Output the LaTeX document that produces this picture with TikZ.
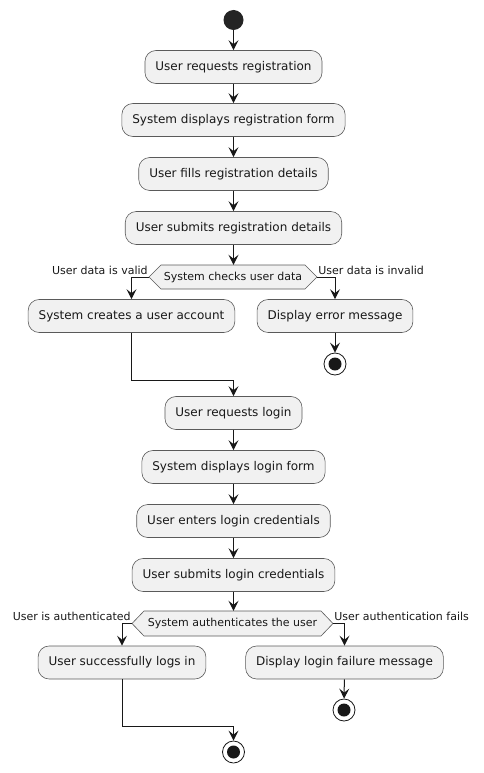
\documentclass[tikz,border=0pt]{standalone}
\usepackage{fontspec}
\setmainfont{DejaVu Sans}
\usetikzlibrary{arrows.meta}
\definecolor{boxfill}{HTML}{F1F1F1}
\definecolor{ink}{HTML}{181818}
\definecolor{edgegrey}{HTML}{5A5A5A}
\tikzset{
act/.style={draw=edgegrey,line width=0.6pt,fill=boxfill,rounded corners=11pt,minimum height=33pt,inner xsep=10.5pt,font=\fontsize{12}{14}\selectfont,text=ink},
cond/.style={draw=edgegrey,line width=0.6pt,fill=boxfill},
condtext/.style={inner sep=0pt,font=\fontsize{11}{13}\selectfont,text=ink},
lbl/.style={inner sep=1pt,font=\fontsize{11}{13}\selectfont,text=ink},
flow/.style={draw=ink,line width=1pt,-{Stealth[length=10pt,width=10pt,inset=4pt]}},
startdot/.style={circle,fill=ink!95!white,minimum size=20pt,inner sep=0pt},
stopdot/.style={circle,draw=ink,line width=0.8pt,fill=white,minimum size=22pt,inner sep=0pt,path picture={\fill[ink] (path picture bounding box.center) circle (6.5pt);}}
}
\begin{document}
\begin{tikzpicture}[x=1pt,y=-1pt]
\useasboundingbox (0,0) rectangle (483,773);
\node[startdot] (start) at (233.5,20) {};
\node[act] (reqreg) at (233.5,67) {User requests registration};
\node[act] (showreg) at (233.5,120) {System displays registration form};
\node[act] (fillreg) at (233.5,174) {User fills registration details};
\node[act] (sendreg) at (233.5,228) {User submits registration details};
\draw[cond] (149,277) -- (161,265) -- (305,265) -- (317,277) -- (305,289) -- (161,289) -- cycle;
\node[condtext,minimum width=168pt,minimum height=24pt] (check) at (233,277) {System checks user data};
\node[lbl,anchor=base east] (validlbl) at ([yshift=3pt]check.west) {User data is valid};
\node[lbl,anchor=base west] (invalidlbl) at ([yshift=3pt]check.east) {User data is invalid};
\node[act] (create) at (131.5,316) {System creates a user account};
\node[act] (errmsg) at (335,316) {Display error message};
\node[stopdot] (stopa) at (335,364) {};
\coordinate (mergea) at (233.5,380);
\node[act] (reqlogin) at (233.5,413) {User requests login};
\node[act] (showlogin) at (233.5,467) {System displays login form};
\node[act] (enterlogin) at (233.5,521) {User enters login credentials};
\node[act] (sendlogin) at (233.5,575) {User submits login credentials};
\draw[cond] (132,623.5) -- (144,611) -- (321,611) -- (333,623.5) -- (321,636) -- (144,636) -- cycle;
\node[condtext,minimum width=201pt,minimum height=25pt] (auth) at (232.5,623.5) {System authenticates the user};
\node[lbl,anchor=base east] (authlbl) at ([yshift=3pt]auth.west) {User is authenticated};
\node[lbl,anchor=base west] (faillbl) at ([yshift=3pt]auth.east) {User authentication fails};
\node[act] (loggedin) at (122,662.5) {User successfully logs in};
\node[act] (failmsg) at (344.5,662.5) {Display login failure message};
\node[stopdot] (stopb) at (344,710) {};
\coordinate (mergeb) at (233.5,726);
\node[stopdot] (stopc) at (233.5,752) {};
\draw[flow] (start) -- (reqreg);
\draw[flow] (reqreg) -- (showreg);
\draw[flow] (showreg) -- (fillreg);
\draw[flow] (fillreg) -- (sendreg);
\draw[flow] (sendreg) -- (check.north -| sendreg);
\draw[flow] (check.west) -| (create);
\draw[flow] (check.east) -| (errmsg);
\draw[flow] (errmsg) -- (stopa);
\draw[flow] (create) |- (mergea) -- (reqlogin);
\draw[flow] (reqlogin) -- (showlogin);
\draw[flow] (showlogin) -- (enterlogin);
\draw[flow] (enterlogin) -- (sendlogin);
\draw[flow] (sendlogin) -- (auth.north -| sendlogin);
\draw[flow] (auth.west) -| (loggedin);
\draw[flow] (auth.east) -| (failmsg);
\draw[flow] (failmsg) -- (stopb);
\draw[flow] (loggedin) |- (mergeb) -- (stopc);
\end{tikzpicture}
\end{document}
